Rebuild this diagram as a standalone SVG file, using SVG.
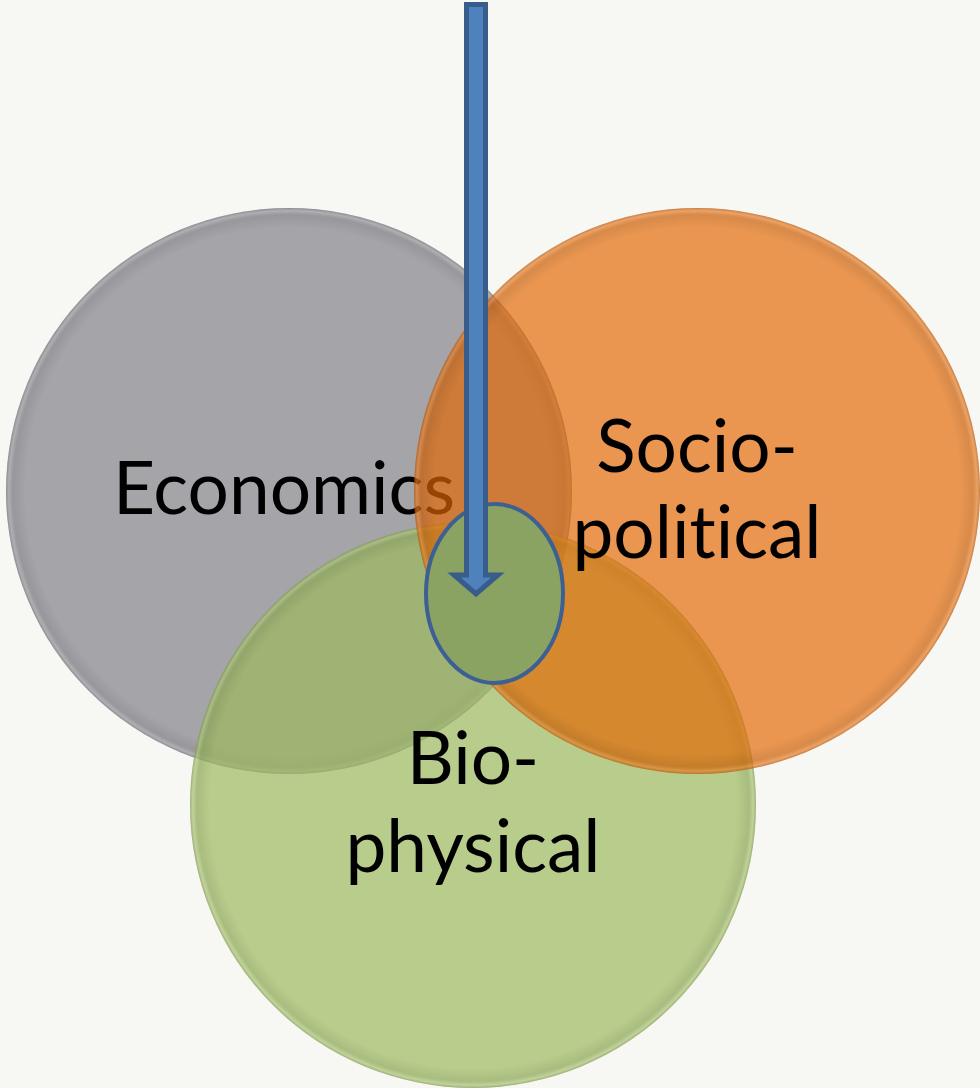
<svg xmlns="http://www.w3.org/2000/svg" width="980" height="1088" viewBox="0 0 980 1088">
<defs>
<style>
.lbl{font-family:Lato,"Open Sans","Liberation Sans",sans-serif;font-size:73px;fill:#000;text-anchor:middle;font-variant-ligatures:none;font-feature-settings:"liga" 0,"clig" 0}
.bevel{fill:url(#bev)}
</style>
<radialGradient id="bev" cx="0.5" cy="0.5" r="0.5">
<stop offset="0.93" stop-color="#000" stop-opacity="0"/>
<stop offset="0.975" stop-color="#000" stop-opacity="0.08"/>
<stop offset="0.99" stop-color="#fff" stop-opacity="0.12"/>
<stop offset="1" stop-color="#000" stop-opacity="0.15"/>
</radialGradient>
</defs>
<rect width="980" height="1088" fill="#f7f7f3"/>
<g id="economics">
<circle cx="289" cy="491" r="283" fill="#828089" fill-opacity="0.7"/>
<circle class="bevel" cx="289" cy="491" r="283"/>
<text class="lbl" x="284" y="514">Economics</text>
</g>
<g id="biophysical">
<circle cx="473" cy="805" r="283" fill="#9dba5e" fill-opacity="0.7"/>
<circle class="bevel" cx="473" cy="805" r="283"/>
<text class="lbl" x="473" y="784">Bio-</text>
<text class="lbl" x="473" y="872">physical</text>
</g>
<g id="sociopolitical">
<circle cx="697" cy="491" r="283" fill="#e26600" fill-opacity="0.67"/>
<circle class="bevel" cx="697" cy="491" r="283"/>
<text class="lbl" x="697" y="472">Socio-</text>
<text class="lbl" x="697" y="558">political</text>
</g>
<g id="focus">
<ellipse cx="494.5" cy="593.5" rx="68.5" ry="89.5" fill="#8aa363" stroke="#3c6094" stroke-width="4"/>
</g>
<g id="connectors">
<polygon points="466.5,4.5 485.5,4.5 485.5,575 498,575 476,594 454,575 466.5,575" fill="#4f81bd" stroke="#385d8a" stroke-width="5" stroke-linejoin="miter"/>
</g>
</svg>
